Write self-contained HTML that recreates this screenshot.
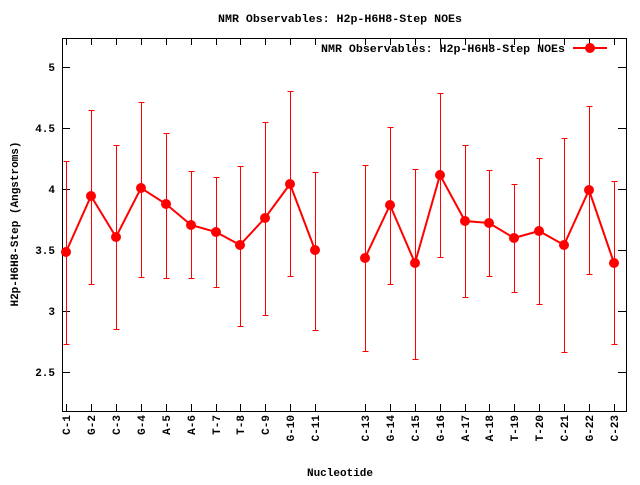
<!DOCTYPE html>
<html><head><meta charset="utf-8"><style>
body{margin:0;background:#fff}
text{font-family:"Liberation Mono",monospace;font-size:11px;font-weight:bold;fill:#000}
</style></head><body>
<svg width="640" height="480" xmlns="http://www.w3.org/2000/svg">
<rect width="640" height="480" fill="#fff"/>
<text x="218" y="22" textLength="244" lengthAdjust="spacingAndGlyphs">NMR Observables: H2p-H6H8-Step NOEs</text>
<rect x="62.5" y="38.5" width="564" height="373" fill="none" stroke="#000" stroke-width="1" shape-rendering="crispEdges"/>
<g stroke="#000" stroke-width="1" shape-rendering="crispEdges">
<line x1="62" y1="67.5" x2="70" y2="67.5"/><line x1="626" y1="67.5" x2="618" y2="67.5"/>
<line x1="62" y1="128.5" x2="70" y2="128.5"/><line x1="626" y1="128.5" x2="618" y2="128.5"/>
<line x1="62" y1="189.5" x2="70" y2="189.5"/><line x1="626" y1="189.5" x2="618" y2="189.5"/>
<line x1="62" y1="250.5" x2="70" y2="250.5"/><line x1="626" y1="250.5" x2="618" y2="250.5"/>
<line x1="62" y1="311.5" x2="70" y2="311.5"/><line x1="626" y1="311.5" x2="618" y2="311.5"/>
<line x1="62" y1="372.5" x2="70" y2="372.5"/><line x1="626" y1="372.5" x2="618" y2="372.5"/>
</g>
<g text-anchor="end">
<text x="55" y="71">5</text><text x="55" y="132">4.5</text><text x="55" y="193">4</text>
<text x="55" y="254">3.5</text><text x="55" y="315">3</text><text x="55" y="376">2.5</text>
</g>
<text transform="translate(18,224) rotate(-90)" text-anchor="middle">H2p-H6H8-Step (Angstroms)</text>
<text x="340" y="476" text-anchor="middle">Nucleotide</text>
<g text-anchor="end">
<text transform="translate(70,415) rotate(-90)">C-1</text>
<text transform="translate(95,415) rotate(-90)">G-2</text>
<text transform="translate(120,415) rotate(-90)">C-3</text>
<text transform="translate(145,415) rotate(-90)">G-4</text>
<text transform="translate(170,415) rotate(-90)">A-5</text>
<text transform="translate(195,415) rotate(-90)">A-6</text>
<text transform="translate(220,415) rotate(-90)">T-7</text>
<text transform="translate(244,415) rotate(-90)">T-8</text>
<text transform="translate(269,415) rotate(-90)">C-9</text>
<text transform="translate(294,415) rotate(-90)">G-10</text>
<text transform="translate(319,415) rotate(-90)">C-11</text>
<text transform="translate(369,415) rotate(-90)">C-13</text>
<text transform="translate(394,415) rotate(-90)">G-14</text>
<text transform="translate(419,415) rotate(-90)">C-15</text>
<text transform="translate(444,415) rotate(-90)">G-16</text>
<text transform="translate(469,415) rotate(-90)">A-17</text>
<text transform="translate(493,415) rotate(-90)">A-18</text>
<text transform="translate(518,415) rotate(-90)">T-19</text>
<text transform="translate(543,415) rotate(-90)">T-20</text>
<text transform="translate(568,415) rotate(-90)">C-21</text>
<text transform="translate(593,415) rotate(-90)">G-22</text>
<text transform="translate(618,415) rotate(-90)">C-23</text>
</g>
<g stroke="#000" shape-rendering="crispEdges" transform="translate(0.5,0)">
<path d="M66 411v-7M91 411v-7M116 411v-7M141 411v-7M166 411v-7M191 411v-7M216 411v-7M240 411v-7M265 411v-7M290 411v-7M315 411v-7M365 411v-7M390 411v-7M415 411v-7M440 411v-7M465 411v-7M489 411v-7M514 411v-7M539 411v-7M564 411v-7M589 411v-7M614 411v-7
M66 38v7M91 38v7M116 38v7M141 38v7M166 38v7M191 38v7M216 38v7M240 38v7M265 38v7M290 38v7M315 38v7M365 38v7M390 38v7M415 38v7M440 38v7M465 38v7M489 38v7M514 38v7M539 38v7M564 38v7M589 38v7M614 38v7"/>
</g>
<g stroke="#f00" stroke-width="1" shape-rendering="crispEdges" transform="translate(0.5,0.5)">
<path d="M66 161V344M63 161h6M63 344h6
M91 110V284M88 110h6M88 284h6
M116 145V329M113 145h6M113 329h6
M141 102V277M138 102h6M138 277h6
M166 133V278M163 133h6M163 278h6
M191 171V278M188 171h6M188 278h6
M216 177V287M213 177h6M213 287h6
M240 166V326M237 166h6M237 326h6
M265 122V315M262 122h6M262 315h6
M290 91V276M287 91h6M287 276h6
M315 172V330M312 172h6M312 330h6
M365 165V351M362 165h6M362 351h6
M390 127V284M387 127h6M387 284h6
M415 169V359M412 169h6M412 359h6
M440 93V257M437 93h6M437 257h6
M465 145V297M462 145h6M462 297h6
M489 170V276M486 170h6M486 276h6
M514 184V292M511 184h6M511 292h6
M539 158V304M536 158h6M536 304h6
M564 138V352M561 138h6M561 352h6
M589 106V274M586 106h6M586 274h6
M614 181V344M611 181h6M611 344h6"/>
</g>
<g stroke="#f00" stroke-width="2" fill="none">
<polyline points="66,252 91,196 116,237 141,188 166,204 191,225 216,232 240,245 265,218 290,184 315,250"/>
<polyline points="365,258 390,205 415,263 440,175 465,221 489,223 514,238 539,231 564,245 589,190 614,263"/>
<line x1="573" y1="48" x2="607" y2="48"/>
</g>
<g fill="#f00">
<circle cx="66" cy="252" r="5"/><circle cx="91" cy="196" r="5"/><circle cx="116" cy="237" r="5"/>
<circle cx="141" cy="188" r="5"/><circle cx="166" cy="204" r="5"/><circle cx="191" cy="225" r="5"/>
<circle cx="216" cy="232" r="5"/><circle cx="240" cy="245" r="5"/><circle cx="265" cy="218" r="5"/>
<circle cx="290" cy="184" r="5"/><circle cx="315" cy="250" r="5"/>
<circle cx="365" cy="258" r="5"/><circle cx="390" cy="205" r="5"/><circle cx="415" cy="263" r="5"/>
<circle cx="440" cy="175" r="5"/><circle cx="465" cy="221" r="5"/><circle cx="489" cy="223" r="5"/>
<circle cx="514" cy="238" r="5"/><circle cx="539" cy="231" r="5"/><circle cx="564" cy="245" r="5"/>
<circle cx="589" cy="190" r="5"/><circle cx="614" cy="263" r="5"/>
<circle cx="590" cy="48" r="5"/>
</g>
<text x="321" y="52" textLength="244" lengthAdjust="spacingAndGlyphs">NMR Observables: H2p-H6H8-Step NOEs</text>
</svg>
</body></html>
